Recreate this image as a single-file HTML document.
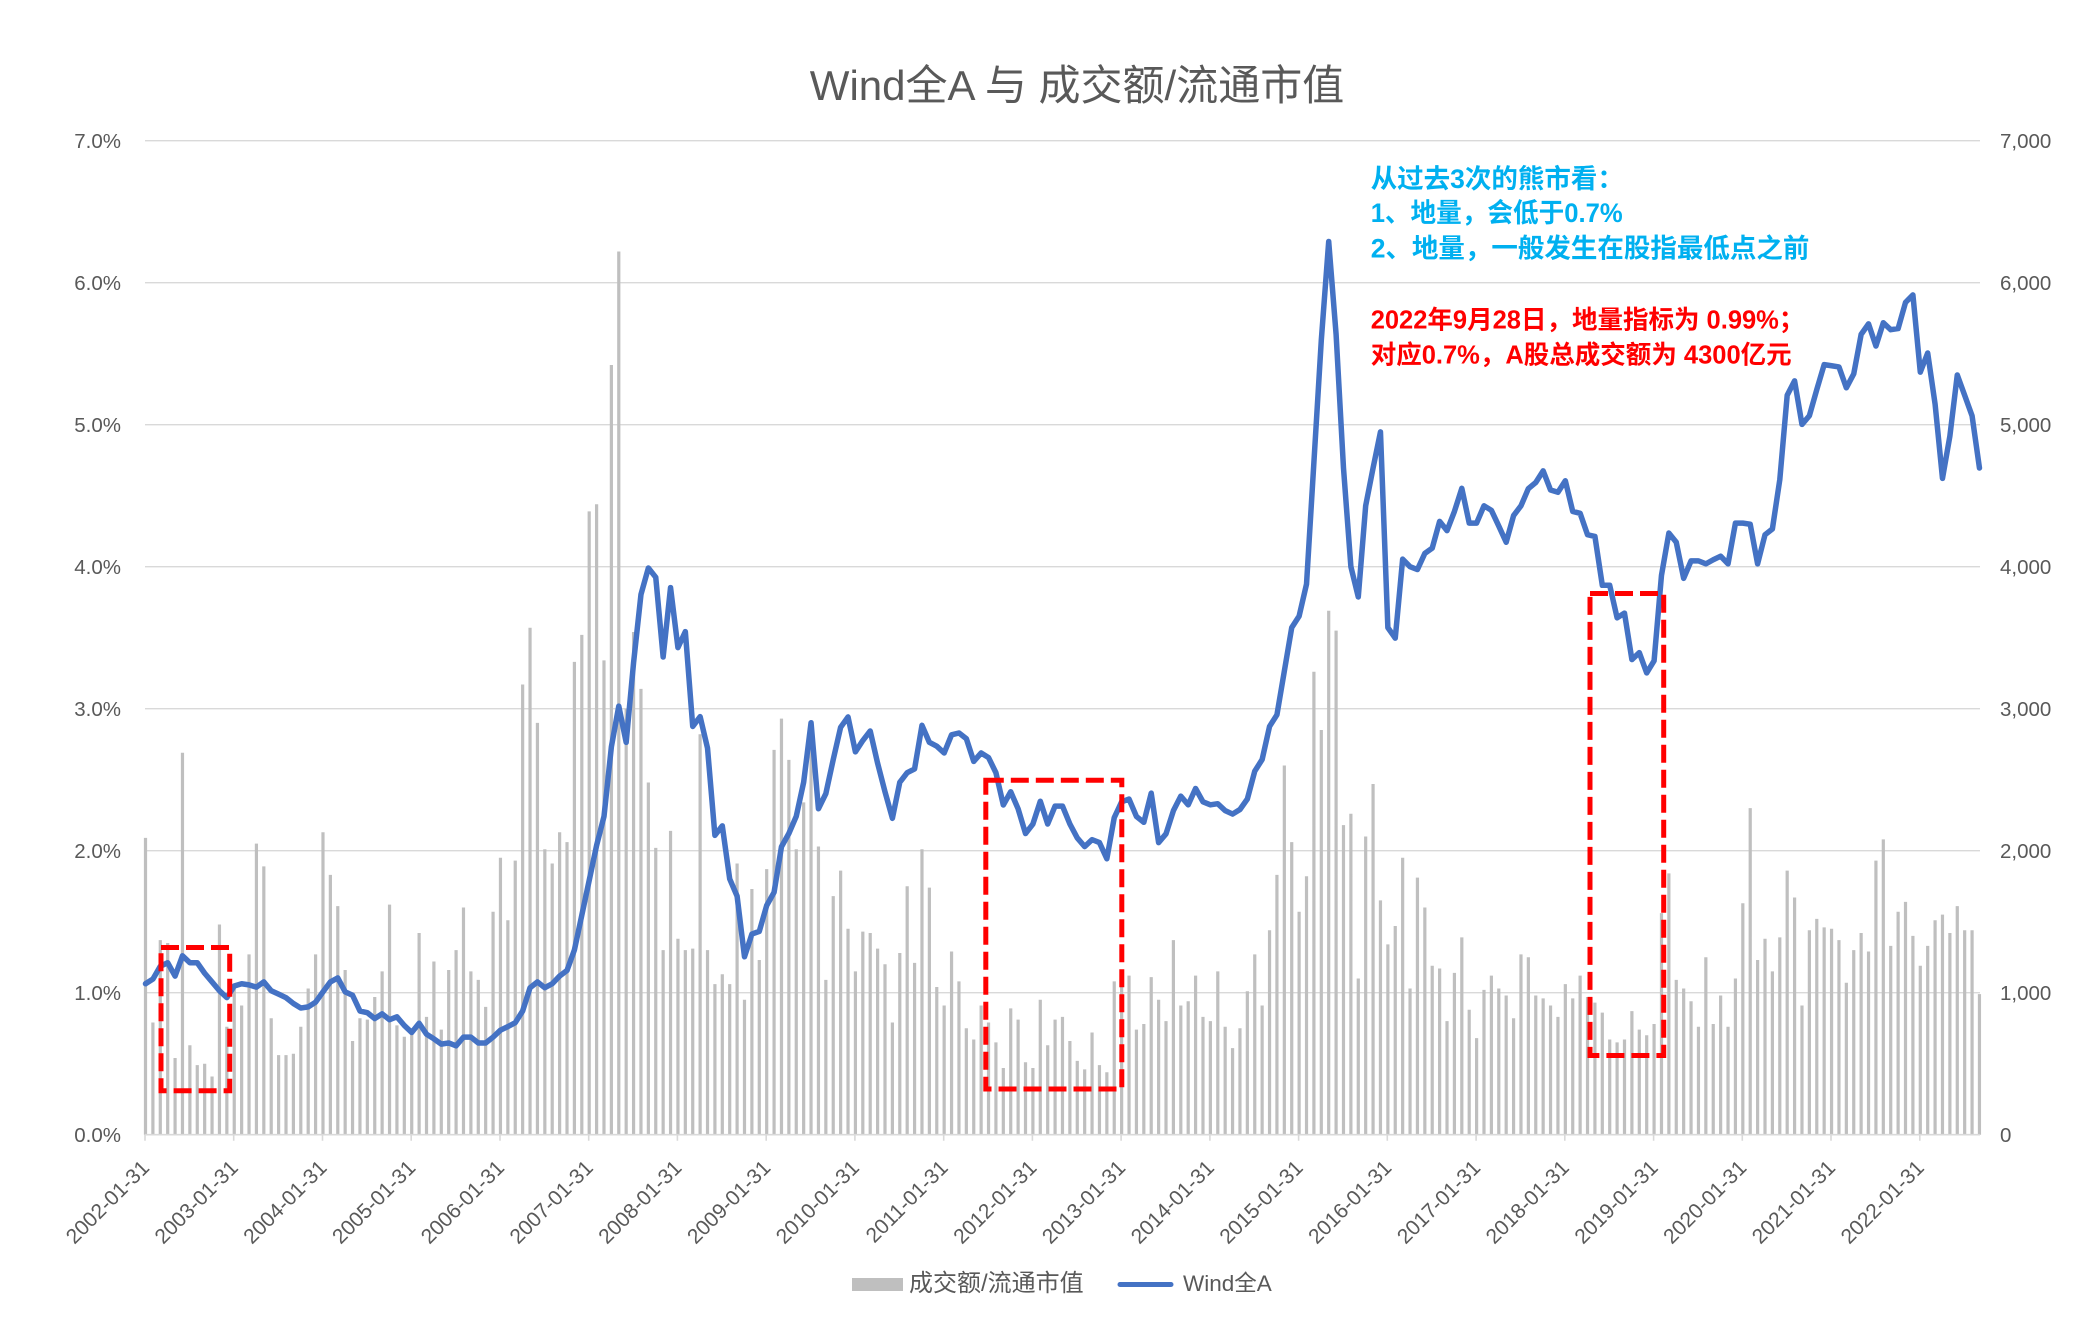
<!DOCTYPE html>
<html>
<head>
<meta charset="utf-8">
<style>
html,body{margin:0;padding:0;background:#fff;}
svg{display:block;}
text{font-family:"Liberation Sans","Noto Sans CJK SC",sans-serif;}
</style>
</head>
<body>
<svg width="2096" height="1334" viewBox="0 0 2096 1334" xmlns="http://www.w3.org/2000/svg">
<rect x="0" y="0" width="2096" height="1334" fill="#ffffff"/>

<!-- title -->
<text x="1077" y="100" font-size="42" fill="#595959" text-anchor="middle">Wind全A 与 成交额/流通市值</text>

<!-- gridlines -->
<g stroke="#d9d9d9" stroke-width="1.4">
<line x1="145" y1="140.7" x2="1980" y2="140.7"/>
<line x1="145" y1="282.7" x2="1980" y2="282.7"/>
<line x1="145" y1="424.7" x2="1980" y2="424.7"/>
<line x1="145" y1="566.7" x2="1980" y2="566.7"/>
<line x1="145" y1="708.7" x2="1980" y2="708.7"/>
<line x1="145" y1="850.7" x2="1980" y2="850.7"/>
<line x1="145" y1="992.7" x2="1980" y2="992.7"/>
</g>

<!-- left axis labels -->
<g font-size="20.5" fill="#595959" text-anchor="end">
<text x="121" y="148">7.0%</text>
<text x="121" y="290">6.0%</text>
<text x="121" y="432">5.0%</text>
<text x="121" y="574">4.0%</text>
<text x="121" y="716">3.0%</text>
<text x="121" y="858">2.0%</text>
<text x="121" y="1000">1.0%</text>
<text x="121" y="1142">0.0%</text>
</g>
<!-- right axis labels -->
<g font-size="20.5" fill="#595959" text-anchor="start">
<text x="2000" y="148">7,000</text>
<text x="2000" y="290">6,000</text>
<text x="2000" y="432">5,000</text>
<text x="2000" y="574">4,000</text>
<text x="2000" y="716">3,000</text>
<text x="2000" y="858">2,000</text>
<text x="2000" y="1000">1,000</text>
<text x="2000" y="1142">0</text>
</g>

<!-- bars -->
<g transform="translate(145.5,1134.7) scale(7.395,-142)">
<path fill="none" stroke="#bfbfbf" stroke-width="3.2" vector-effect="non-scaling-stroke" d="M0 0V2.09M1 0V.79M2 0V1.37M3 0V1.35M4 0V.54M5 0V2.69M6 0V.63M7 0V.49M8 0V.5M9 0V.41M10 0V1.48M11 0V.76M12 0V1.05M13 0V.91M14 0V1.27M15 0V2.05M16 0V1.89M17 0V.82M18 0V.56M19 0V.56M20 0V.57M21 0V.76M22 0V1.03M23 0V1.27M24 0V2.13M25 0V1.83M26 0V1.61M27 0V1.16M28 0V.66M29 0V.82M30 0V.81M31 0V.97M32 0V1.15M33 0V1.62M34 0V.77M35 0V.69M36 0V.75M37 0V1.42M38 0V.83M39 0V1.22M40 0V.74M41 0V1.16M42 0V1.3M43 0V1.6M44 0V1.15M45 0V1.09M46 0V.9M47 0V1.57M48 0V1.95M49 0V1.51M50 0V1.93M51 0V3.17M52 0V3.57M53 0V2.9M54 0V2.01M55 0V1.91M56 0V2.13M57 0V2.06M58 0V3.33M59 0V3.52M60 0V4.39M61 0V4.44M62 0V3.34M63 0V5.42M64 0V6.22M65 0V3M66 0V3.54M67 0V3.14M68 0V2.48M69 0V2.02M70 0V1.3M71 0V2.14M72 0V1.38M73 0V1.3M74 0V1.31M75 0V2.82M76 0V1.3M77 0V1.06M78 0V1.13M79 0V1.06M80 0V1.91M81 0V.95M82 0V1.73M83 0V1.23M84 0V1.87M85 0V2.71M86 0V2.93M87 0V2.64M88 0V2.01M89 0V2.34M90 0V2.9M91 0V2.03M92 0V1.09M93 0V1.68M94 0V1.86M95 0V1.45M96 0V1.15M97 0V1.43M98 0V1.42M99 0V1.31M100 0V1.2M101 0V.79M102 0V1.28M103 0V1.75M104 0V1.21M105 0V2.01M106 0V1.74M107 0V1.04M108 0V.91M109 0V1.29M110 0V1.08M111 0V.75M112 0V.67M113 0V.91M114 0V.79M115 0V.65M116 0V.47M117 0V.89M118 0V.81M119 0V.51M120 0V.47M121 0V.95M122 0V.63M123 0V.81M124 0V.83M125 0V.66M126 0V.52M127 0V.46M128 0V.72M129 0V.49M130 0V.44M131 0V1.08M132 0V1.05M133 0V1.12M134 0V.74M135 0V.78M136 0V1.11M137 0V.95M138 0V.8M139 0V1.37M140 0V.91M141 0V.94M142 0V1.12M143 0V.83M144 0V.8M145 0V1.15M146 0V.76M147 0V.61M148 0V.75M149 0V1.01M150 0V1.27M151 0V.91M152 0V1.44M153 0V1.83M154 0V2.6M155 0V2.06M156 0V1.57M157 0V1.82M158 0V3.26M159 0V2.85M160 0V3.69M161 0V3.55M162 0V2.18M163 0V2.26M164 0V1.1M165 0V2.1M166 0V2.47M167 0V1.65M168 0V1.34M169 0V1.47M170 0V1.95M171 0V1.03M172 0V1.81M173 0V1.6M174 0V1.19M175 0V1.17M176 0V.8M177 0V1.14M178 0V1.39M179 0V.88M180 0V.68M181 0V1.02M182 0V1.12M183 0V1.03M184 0V.98M185 0V.82M186 0V1.27M187 0V1.25M188 0V.98M189 0V.96M190 0V.91M191 0V.83M192 0V1.06M193 0V.96M194 0V1.12M195 0V.97M196 0V.93M197 0V.86M198 0V.67M199 0V.65M200 0V.67M201 0V.87M202 0V.74M203 0V.7M204 0V.78M205 0V1.56M206 0V1.84M207 0V1.09M208 0V1.03M209 0V.94M210 0V.76M211 0V1.25M212 0V.78M213 0V.98M214 0V.76M215 0V1.1M216 0V1.63M217 0V2.3M218 0V1.23M219 0V1.38M220 0V1.15M221 0V1.39M222 0V1.86M223 0V1.67M224 0V.91M225 0V1.44M226 0V1.52M227 0V1.46M228 0V1.45M229 0V1.37M230 0V1.07M231 0V1.3M232 0V1.42M233 0V1.29M234 0V1.93M235 0V2.08M236 0V1.33M237 0V1.57M238 0V1.64M239 0V1.4M240 0V1.19M241 0V1.33M242 0V1.51M243 0V1.55M244 0V1.42M245 0V1.61M246 0V1.44M247 0V1.44M248 0V.99"/>
</g>

<!-- x axis -->
<line x1="145" y1="1134.7" x2="1980" y2="1134.7" stroke="#d9d9d9" stroke-width="1.6"/>
<path stroke="#d9d9d9" stroke-width="1.6" fill="none" d="M145 1134.7v6M233.7 1134.7v6M322.5 1134.7v6M411.2 1134.7v6M500 1134.7v6M588.7 1134.7v6M677.4 1134.7v6M766.2 1134.7v6M854.9 1134.7v6M943.7 1134.7v6M1032.4 1134.7v6M1121.1 1134.7v6M1209.9 1134.7v6M1298.6 1134.7v6M1387.3 1134.7v6M1476.1 1134.7v6M1564.8 1134.7v6M1653.6 1134.7v6M1742.3 1134.7v6M1831 1134.7v6M1919.8 1134.7v6"/>

<!-- x labels -->
<g font-size="21" fill="#595959" text-anchor="end">
<text transform="translate(150.5,1169) rotate(-45)">2002-01-31</text>
<text transform="translate(239.2,1169) rotate(-45)">2003-01-31</text>
<text transform="translate(328,1169) rotate(-45)">2004-01-31</text>
<text transform="translate(416.7,1169) rotate(-45)">2005-01-31</text>
<text transform="translate(505.5,1169) rotate(-45)">2006-01-31</text>
<text transform="translate(594.2,1169) rotate(-45)">2007-01-31</text>
<text transform="translate(682.9,1169) rotate(-45)">2008-01-31</text>
<text transform="translate(771.7,1169) rotate(-45)">2009-01-31</text>
<text transform="translate(860.4,1169) rotate(-45)">2010-01-31</text>
<text transform="translate(949.2,1169) rotate(-45)">2011-01-31</text>
<text transform="translate(1037.9,1169) rotate(-45)">2012-01-31</text>
<text transform="translate(1126.6,1169) rotate(-45)">2013-01-31</text>
<text transform="translate(1215.4,1169) rotate(-45)">2014-01-31</text>
<text transform="translate(1304.1,1169) rotate(-45)">2015-01-31</text>
<text transform="translate(1392.8,1169) rotate(-45)">2016-01-31</text>
<text transform="translate(1481.6,1169) rotate(-45)">2017-01-31</text>
<text transform="translate(1570.3,1169) rotate(-45)">2018-01-31</text>
<text transform="translate(1659.1,1169) rotate(-45)">2019-01-31</text>
<text transform="translate(1747.8,1169) rotate(-45)">2020-01-31</text>
<text transform="translate(1836.5,1169) rotate(-45)">2021-01-31</text>
<text transform="translate(1925.3,1169) rotate(-45)">2022-01-31</text>
</g>

<!-- index line -->
<g transform="translate(145.5,1134.7) scale(7.395,-142)">
<polyline fill="none" stroke="#4472c4" stroke-width="5.5" stroke-linejoin="round" stroke-linecap="round" vector-effect="non-scaling-stroke" points="0,1.063 1,1.096 2,1.186 3,1.211 4,1.117 5,1.26 6,1.211 7,1.211 8,1.137 9,1.076 10,1.014 11,.965 12,1.047 13,1.063 14,1.055 15,1.039 16,1.076 17,1.014 18,.99 19,.965 20,.924 21,.892 22,.9 23,.933 24,1.006 25,1.076 26,1.104 27,1.006 28,.982 29,.871 30,.859 31,.818 32,.851 33,.81 34,.83 35,.769 36,.72 37,.785 38,.708 39,.675 40,.638 41,.646 42,.626 43,.687 44,.687 45,.646 46,.646 47,.687 48,.736 49,.761 50,.789 51,.871 52,1.035 53,1.076 54,1.035 55,1.063 56,1.117 57,1.157 58,1.301 59,1.546 60,1.791 61,2.037 62,2.241 63,2.732 64,3.018 65,2.763 66,3.324 67,3.804 68,3.991 69,3.925 70,3.364 71,3.853 72,3.43 73,3.543 74,2.875 75,2.944 76,2.722 77,2.108 78,2.175 79,1.801 80,1.68 81,1.253 82,1.413 83,1.432 84,1.614 85,1.707 86,2.028 87,2.121 88,2.242 89,2.482 90,2.901 91,2.295 92,2.402 93,2.642 94,2.869 95,2.942 96,2.696 97,2.776 98,2.843 99,2.616 100,2.415 101,2.228 102,2.482 103,2.549 104,2.576 105,2.883 106,2.763 107,2.736 108,2.688 109,2.816 110,2.829 111,2.789 112,2.629 113,2.688 114,2.656 115,2.549 116,2.322 117,2.415 118,2.295 119,2.121 120,2.188 121,2.348 122,2.188 123,2.314 124,2.314 125,2.188 126,2.09 127,2.029 128,2.078 129,2.057 130,1.943 131,2.233 132,2.344 133,2.364 134,2.241 135,2.2 136,2.405 137,2.057 138,2.119 139,2.282 140,2.384 141,2.323 142,2.438 143,2.344 144,2.323 145,2.331 146,2.282 147,2.258 148,2.29 149,2.364 150,2.56 151,2.642 152,2.875 153,2.957 154,3.264 155,3.571 156,3.652 157,3.877 158,4.736 159,5.595 160,6.29 161,5.636 162,4.695 163,4 164,3.787 165,4.429 166,4.695 167,4.949 168,3.571 169,3.497 170,4.053 171,4 172,3.98 173,4.094 174,4.131 175,4.319 176,4.254 177,4.389 178,4.552 179,4.307 180,4.307 181,4.429 182,4.397 183,4.286 184,4.172 185,4.36 186,4.429 187,4.55 188,4.593 189,4.675 190,4.54 191,4.524 192,4.605 193,4.389 194,4.376 195,4.225 196,4.213 197,3.869 198,3.869 199,3.64 200,3.673 201,3.346 202,3.395 203,3.252 204,3.337 205,3.939 206,4.237 207,4.172 208,3.918 209,4.041 210,4.041 211,4.02 212,4.049 213,4.074 214,4.02 215,4.307 216,4.307 217,4.299 218,4.02 219,4.225 220,4.266 221,4.613 222,5.207 223,5.309 224,5.002 225,5.063 226,5.247 227,5.423 228,5.415 229,5.407 230,5.26 231,5.358 232,5.636 233,5.71 234,5.554 235,5.718 236,5.669 237,5.677 238,5.861 239,5.914 240,5.37 241,5.505 242,5.145 243,4.622 244,4.92 245,5.35 246,5.207 247,5.063 248,4.695"/>
</g>

<!-- red dashed boxes -->
<g fill="none" stroke="#ff0000" stroke-width="5" stroke-dasharray="18 7">
<rect x="161" y="947.5" width="68.7" height="143.2"/>
<rect x="985.8" y="780.3" width="136" height="308.7"/>
<rect x="1590" y="593.5" width="73.7" height="462"/>
</g>

<!-- annotations -->
<g font-size="26.5" font-weight="bold" fill="#00b0f0">
<text x="1370.7" y="188">从过去3次的熊市看：</text>
<text x="1370.7" y="222" textLength="252" lengthAdjust="spacingAndGlyphs">1、地量，会低于0.7%</text>
<text x="1370.7" y="257.5">2、地量，一般发生在股指最低点之前</text>
</g>
<g font-size="25.5" font-weight="bold" fill="#ff0000">
<text x="1370.7" y="328.5">2022年9月28日，地量指标为 0.99%；</text>
<text x="1370.7" y="363.5" textLength="421" lengthAdjust="spacingAndGlyphs">对应0.7%，A股总成交额为 4300亿元</text>
</g>

<!-- legend -->
<rect x="852" y="1278" width="51" height="13" fill="#bfbfbf"/>
<text x="909" y="1291" font-size="24" fill="#595959">成交额/流通市值</text>
<line x1="1120" y1="1284.5" x2="1171" y2="1284.5" stroke="#4472c4" stroke-width="5" stroke-linecap="round"/>
<text x="1183" y="1291" font-size="22.5" fill="#595959">Wind全A</text>
</svg>
</body>
</html>
